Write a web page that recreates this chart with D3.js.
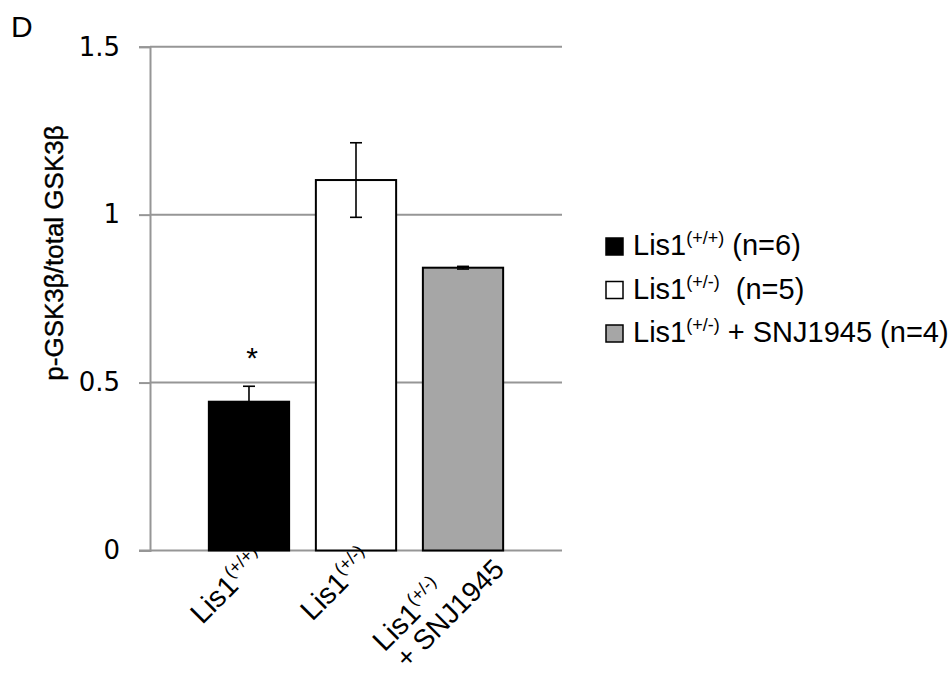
<!DOCTYPE html>
<html>
<head>
<meta charset="utf-8">
<script src="https://cdn.jsdelivr.net/npm/d3@7"></script>
<style>
  body { margin: 0; background: #fff; }
  svg { display: block; }
</style>
</head>
<body>
<div id="chart"></div>
<script>
// values
var groups = ["Lis1", "Lis1", "Lis1"];
var genotypes = ["(+/+)", "(+/-)", "(+/-)"];
var extras = ["", "+ SNJ1945", "+ SNJ1945"];
var means = [0.443, 1.103, 0.842];
var errors = [0.046, 0.111, 0.004];
var fills = ["#000000", "#ffffff", "#a6a6a6"];
var nValues = [6, 5, 4];
var yTicks = [0, 0.5, 1, 1.5];

var width = 951, height = 675;
var font = "'Liberation Sans', Arial, sans-serif";
var tickFont = "'DejaVu Sans', sans-serif";

var svg = d3.select("#chart").append("svg")
    .attr("width", width)
    .attr("height", height);

var y = d3.scaleLinear().domain([0, 1.5]).range([550.5, 46.7]);
var x = d3.scaleBand()
    .domain(d3.range(means.length))
    .range([150, 562])
    .paddingInner(0.25)
    .paddingOuter(0.55);

// gridlines
svg.append("g").selectAll("line")
    .data(yTicks.filter(function(d) { return d > 0; }))
    .enter().append("line")
    .attr("x1", 150).attr("x2", 562)
    .attr("y1", function(d) { return y(d); })
    .attr("y2", function(d) { return y(d); })
    .attr("stroke", "#969696")
    .attr("stroke-width", 2);

// y axis
var yAxis = d3.axisLeft(y).tickValues(yTicks).tickSize(11).tickPadding(19)
    .tickFormat(function(d) { return String(d); });
var gy = svg.append("g").attr("transform", "translate(150,0)").call(yAxis);
gy.select(".domain").attr("stroke", "#969696").attr("stroke-width", 2);
gy.selectAll(".tick line").attr("stroke", "#969696").attr("stroke-width", 2);
gy.selectAll(".tick text")
    .attr("font-family", tickFont)
    .attr("font-size", 26)
    .attr("fill", "#000");

// baseline
svg.append("line")
    .attr("x1", 139).attr("x2", 562)
    .attr("y1", y(0)).attr("y2", y(0))
    .attr("stroke", "#969696").attr("stroke-width", 2);

// bars
svg.append("g").selectAll("rect")
    .data(means)
    .enter().append("rect")
    .attr("x", function(d, i) { return x(i); })
    .attr("width", x.bandwidth())
    .attr("y", function(d) { return y(d); })
    .attr("height", function(d) { return y(0) - y(d); })
    .attr("fill", function(d, i) { return fills[i]; })
    .attr("stroke", "#000")
    .attr("stroke-width", 2);

// error bars
var cx = function(i) { return x(i) + x.bandwidth() / 2; };
var eb = svg.append("g").selectAll("g")
    .data(means)
    .enter().append("g")
    .attr("stroke", "#000").attr("stroke-width", 1.6);
eb.append("line")
    .attr("x1", function(d, i) { return cx(i); })
    .attr("x2", function(d, i) { return cx(i); })
    .attr("y1", function(d, i) { return y(d - errors[i]); })
    .attr("y2", function(d, i) { return y(d + errors[i]); });
eb.append("line")
    .attr("x1", function(d, i) { return cx(i) - 6; })
    .attr("x2", function(d, i) { return cx(i) + 6; })
    .attr("y1", function(d, i) { return y(d + errors[i]); })
    .attr("y2", function(d, i) { return y(d + errors[i]); });
eb.append("line")
    .attr("x1", function(d, i) { return cx(i) - 6; })
    .attr("x2", function(d, i) { return cx(i) + 6; })
    .attr("y1", function(d, i) { return y(d - errors[i]); })
    .attr("y2", function(d, i) { return y(d - errors[i]); })
    .attr("stroke", function(d, i) { return i === 0 ? "none" : "#000"; });

// significance mark
svg.append("text")
    .attr("x", cx(0) + 3)
    .attr("y", y(means[0] + errors[0]) - 18)
    .attr("text-anchor", "middle")
    .attr("font-family", font)
    .attr("font-size", 30)
    .text("*");

// x labels, rotated
var xl = svg.append("g").selectAll("g")
    .data(means)
    .enter().append("g")
    .attr("transform", function(d, i) {
        return "translate(" + cx(i) + ",560) rotate(-45)";
    });
function labelLine(sel, i, anchor, lx, ly) {
    var t = sel.append("text")
        .attr("text-anchor", anchor)
        .attr("x", lx)
        .attr("y", ly)
        .attr("font-family", font)
        .attr("font-size", 29);
    t.append("tspan").text(groups[i]);
    t.append("tspan").attr("font-size", 18).attr("dy", -12).text(genotypes[i]);
}
xl.each(function(d, i) {
    var g = d3.select(this);
    if (i < 2) {
        labelLine(g, i, "end", 12, 13);
    } else {
        labelLine(g, i, "start", -121, 10);
        g.append("text")
            .attr("x", -117)
            .attr("y", 38)
            .attr("font-family", font)
            .attr("font-size", 28)
            .text(extras[i]);
    }
});

// y axis title
svg.append("text")
    .attr("transform", "translate(63,253) rotate(-90)")
    .attr("text-anchor", "middle")
    .attr("font-family", font)
    .attr("font-size", 26)
    .attr("stroke", "#000")
    .attr("stroke-width", 0.4)
    .text("p-GSK3\u03b2/total GSK3\u03b2");

// panel letter
svg.append("text")
    .attr("x", 11).attr("y", 37)
    .attr("font-family", font)
    .attr("font-size", 30)
    .text("D");

// legend
var lg = svg.append("g").selectAll("g")
    .data(means)
    .enter().append("g")
    .attr("transform", function(d, i) { return "translate(605," + (255 + i * 43.5) + ")"; });
lg.append("rect")
    .attr("x", 1).attr("y", -17)
    .attr("width", 17).attr("height", 17)
    .attr("fill", function(d, i) { return fills[i]; })
    .attr("stroke", "#000").attr("stroke-width", 1.5);
var lt = lg.append("text")
    .attr("x", 28)
    .attr("font-family", font)
    .attr("font-size", 29);
lt.append("tspan").text(function(d, i) { return groups[i]; });
lt.append("tspan").attr("font-size", 18).attr("dy", -11)
    .text(function(d, i) { return genotypes[i]; });
lt.append("tspan").attr("dy", 11)
    .text(function(d, i) {
        if (i === 0) return " (n=" + nValues[i] + ")";
        if (i === 1) return "\u00a0 (n=" + nValues[i] + ")";
        return " + SNJ1945 (n=" + nValues[i] + ")";
    });
</script>
</body>
</html>
